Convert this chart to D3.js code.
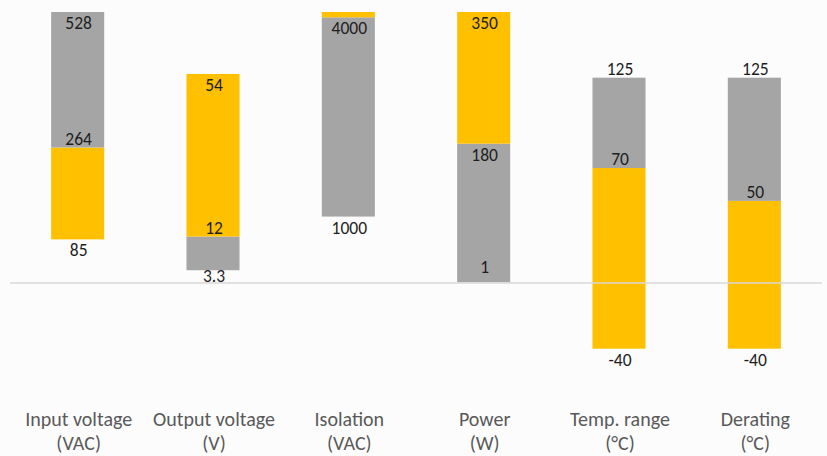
<!DOCTYPE html>
<html>
<head>
<meta charset="utf-8">
<script src="https://cdn.jsdelivr.net/npm/d3@7"></script>
<style>
    html, body { margin: 0; padding: 0; background: #fcfcfc; }
    svg { display: block; }
    .bar-values { font-family: Carlito, Calibri, Lato, sans-serif; font-size: 17.5px; fill: #1e1e1e; }
    .cat-label { font-family: Carlito, Calibri, Lato, sans-serif; font-size: 20px; fill: #595959; }
</style>
</head>
<body>
<svg id="chart" width="827" height="456"></svg>
<script>
// categories (two lines each)
var categories = [
    ['Input voltage', '(VAC)'],
    ['Output voltage', '(V)'],
    ['Isolation', '(VAC)'],
    ['Power', '(W)'],
    ['Temp. range', '(°C)'],
    ['Derating', '(°C)']
];
// range values per category
var lows  = [85, 3.3, 1000, 1, -40, -40];
var mids  = [264, 12, 4000, 180, 70, 50];
var highs = [528, 54, 4080, 350, 125, 125];
// each column has its own axis; value that reaches the top of the plot
var axisMax = [528, 70, 4080, 350, 165, 165];
// which colour sits at the bottom of each column
var lowerSeries = ['yellow', 'gray', 'gray', 'gray', 'yellow', 'yellow'];
// data label placement
var lowLabel  = ['below', 'below', 'below', 'inBase', 'below', 'below'];
var midLabel  = ['above', 'above', 'in', 'in', 'above', 'above'];
var highLabel = ['in', 'in', null, 'in', 'above', 'above'];

var colors = { gray: '#a5a5a5', yellow: '#ffc000' };
var labelOffset = { 'in': 17, above: -3, below: 17, inBase: -9 };

var svg = d3.select('#chart');
var plotTop = 12, zeroY = 283;

var x = d3.scaleBand()
    .domain(d3.range(categories.length))
    .range([10, 822])
    .paddingInner(0.608)
    .paddingOuter(0.304);

// one linear scale per column
var yScales = axisMax.map(function(m) {
    return d3.scaleLinear().domain([0, m]).range([zeroY, plotTop]);
});

var rows = categories.map(function(c, i) {
    var other = lowerSeries[i] === 'gray' ? 'yellow' : 'gray';
    return {
        i: i,
        segs: [
            { from: lows[i], to: mids[i], color: colors[lowerSeries[i]] },
            { from: mids[i], to: highs[i], color: colors[other] }
        ]
    };
});

var cols = svg.selectAll('g.col')
    .data(rows)
    .enter().append('g')
    .attr('class', 'col');

cols.selectAll('rect')
    .data(function(d) { return d.segs.map(function(s) { s.i = d.i; return s; }); })
    .enter().append('rect')
    .attr('x', function(s) { return x(s.i); })
    .attr('width', x.bandwidth())
    .attr('y', function(s) { return yScales[s.i](s.to); })
    .attr('height', function(s) { return yScales[s.i](s.from) - yScales[s.i](s.to); })
    .attr('fill', function(s) { return s.color; });

// zero line, drawn over the bars
svg.append('line')
    .attr('x1', 10).attr('x2', 822)
    .attr('y1', zeroY).attr('y2', zeroY)
    .attr('stroke', '#d9d9d9')
    .attr('stroke-width', 1.5);

// data labels
var labels = [];
rows.forEach(function(r) {
    var i = r.i;
    [[lows[i], lowLabel[i]], [mids[i], midLabel[i]], [highs[i], highLabel[i]]].forEach(function(p) {
        if (p[1]) labels.push({ i: i, v: p[0], mode: p[1] });
    });
});

svg.selectAll('text.bar-values')
    .data(labels)
    .enter().append('text')
    .attr('class', 'bar-values')
    .attr('text-anchor', 'middle')
    .attr('x', function(d) { return x(d.i) + x.bandwidth() / 2 + 1; })
    .attr('y', function(d) {
        var y = yScales[d.i](d.v) + labelOffset[d.mode];
        // keep labels of small positive bases above the zero line
        if (d.mode === 'below' && d.v > 0) y = Math.min(y, zeroY - 1);
        return y;
    })
    .text(function(d) { return d.v; });

// category labels
var cat = svg.selectAll('text.cat-label')
    .data(categories)
    .enter().append('text')
    .attr('class', 'cat-label')
    .attr('text-anchor', 'middle')
    .attr('x', function(d, i) { return x(i) + x.bandwidth() / 2 + 1; })
    .attr('y', 426);

cat.selectAll('tspan')
    .data(function(d) { return d; })
    .enter().append('tspan')
    .attr('x', function() { return d3.select(this.parentNode).attr('x'); })
    .attr('dy', function(d, j) { return j === 0 ? 0 : 24; })
    .text(function(d) { return d; });
</script>
</body>
</html>
